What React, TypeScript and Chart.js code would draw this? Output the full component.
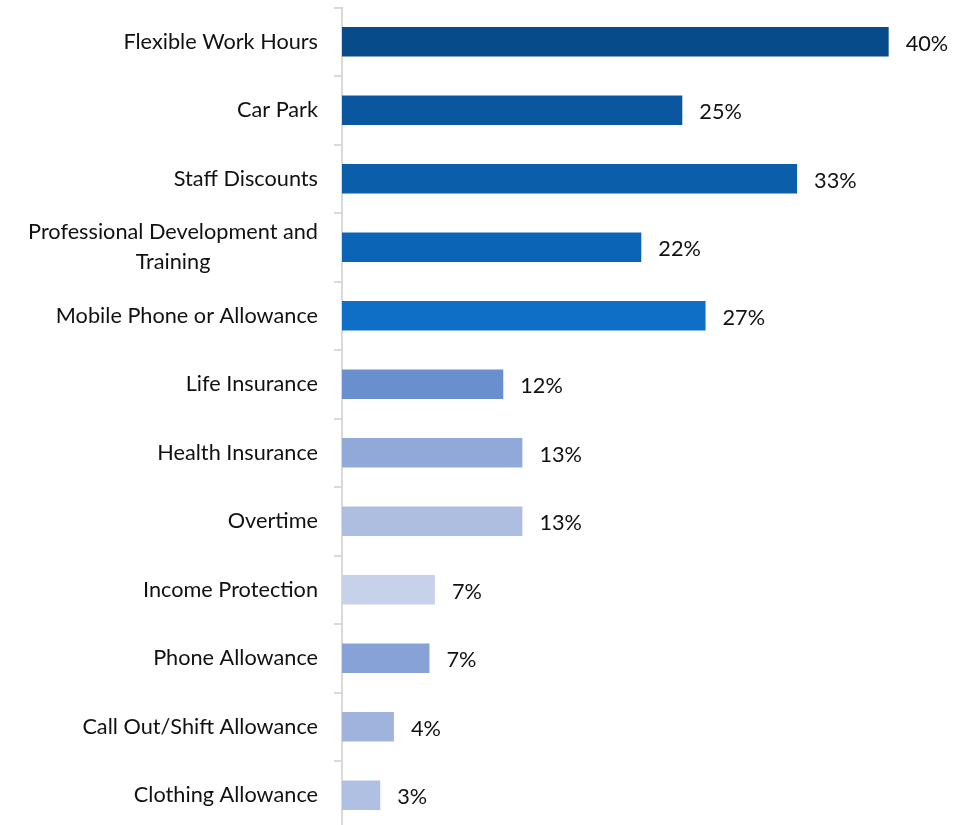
import React, { useEffect, useRef } from "react";
import { Chart, registerables } from "chart.js";

Chart.register(...registerables);

const categories: (string | string[])[] = [
  "Flexible Work Hours",
  "Car Park",
  "Staff Discounts",
  ["Professional Development and", "Training"],
  "Mobile Phone or Allowance",
  "Life Insurance",
  "Health Insurance",
  "Overtime",
  "Income Protection",
  "Phone Allowance",
  "Call Out/Shift Allowance",
  "Clothing Allowance",
];

const values = [40.0, 24.9, 33.3, 21.9, 26.6, 11.8, 13.2, 13.2, 6.8, 6.4, 3.8, 2.8];
const valueLabels = ["40%", "25%", "33%", "22%", "27%", "12%", "13%", "13%", "7%", "7%", "4%", "3%"];
const barColors = [
  "#074B8A",
  "#0A569F",
  "#0B5EAA",
  "#0C64B6",
  "#0F6FC6",
  "#6A8FCE",
  "#91A9D9",
  "#AEBEE0",
  "#C7D1EA",
  "#87A2D7",
  "#A0B3DC",
  "#B0C0E3",
];

const FONT = "Lato, 'Open Sans', sans-serif";
const FONT_SIZE = 21.7;
const LINE_GAP = 30;

const valueLabelPlugin = {
  id: "valueLabels",
  afterDatasetsDraw(chart: any) {
    const ctx = chart.ctx;
    const meta = chart.getDatasetMeta(0);
    ctx.save();
    ctx.font = `${FONT_SIZE}px ${FONT}`;
    ctx.fillStyle = "#111";
    ctx.textAlign = "left";
    ctx.textBaseline = "middle";
    meta.data.forEach((bar: any, i: number) => {
      ctx.fillText(valueLabels[i], bar.x + 17, bar.y + 2);
    });
    ctx.restore();
  },
};

// category labels: block right-aligned, lines centred within the block
const categoryLabelPlugin = {
  id: "categoryLabels",
  afterDraw(chart: any) {
    const ctx = chart.ctx;
    const yScale = chart.scales.y;
    const rightEdge = yScale.right - 8 - 16;
    ctx.save();
    ctx.font = `${FONT_SIZE}px ${FONT}`;
    ctx.fillStyle = "#111";
    ctx.textAlign = "center";
    ctx.textBaseline = "middle";
    categories.forEach((label, i) => {
      const lines = Array.isArray(label) ? label : [label];
      const w = Math.max(...lines.map((l) => ctx.measureText(l).width));
      const cx = rightEdge - w / 2;
      const y = yScale.getPixelForTick(i);
      const y0 = y - ((lines.length - 1) * LINE_GAP) / 2;
      lines.forEach((l, k) => ctx.fillText(l, cx, y0 + k * LINE_GAP));
    });
    ctx.restore();
  },
};

export default function App() {
  const ref = useRef<HTMLCanvasElement>(null);
  useEffect(() => {
    if (!ref.current) return;
    const chart = new Chart(ref.current, {
      type: "bar",
      data: {
        labels: categories,
        datasets: [
          {
            data: values,
            backgroundColor: barColors,
            borderWidth: 0,
            barPercentage: 0.86,
            categoryPercentage: 0.5,
          },
        ],
      },
      options: {
        indexAxis: "y",
        animation: false,
        responsive: false,
        maintainAspectRatio: false,
        layout: { padding: { top: 7.5, bottom: 10.5, right: 14, left: 0 } },
        plugins: {
          legend: { display: false },
          tooltip: { enabled: false },
        },
        scales: {
          x: {
            display: false,
            min: 0,
            max: 45,
          },
          y: {
            afterFit(scale: any) {
              scale.width = 342;
              scale.paddingTop = 0;
              scale.paddingBottom = 0;
            },
            grid: {
              drawOnChartArea: false,
              drawTicks: true,
              tickLength: 8,
              color: "#d9d9d9",
              lineWidth: 2,
              offset: true,
            },
            border: { display: true, color: "#d9d9d9", width: 2 },
            ticks: {
              padding: 16,
              color: "rgba(0,0,0,0)",
              autoSkip: false,
              font: { family: FONT, size: FONT_SIZE, lineHeight: 1.4 },
            },
          },
        },
      },
      plugins: [valueLabelPlugin, categoryLabelPlugin],
    });
    return () => chart.destroy();
  }, []);
  return (
    <div style={{ position: "fixed", left: 0, top: 0, width: 971, height: 840, background: "#fff" }}>
      <canvas ref={ref} width={971} height={840} style={{ width: 971, height: 840, display: "block" }} />
    </div>
  );
}
